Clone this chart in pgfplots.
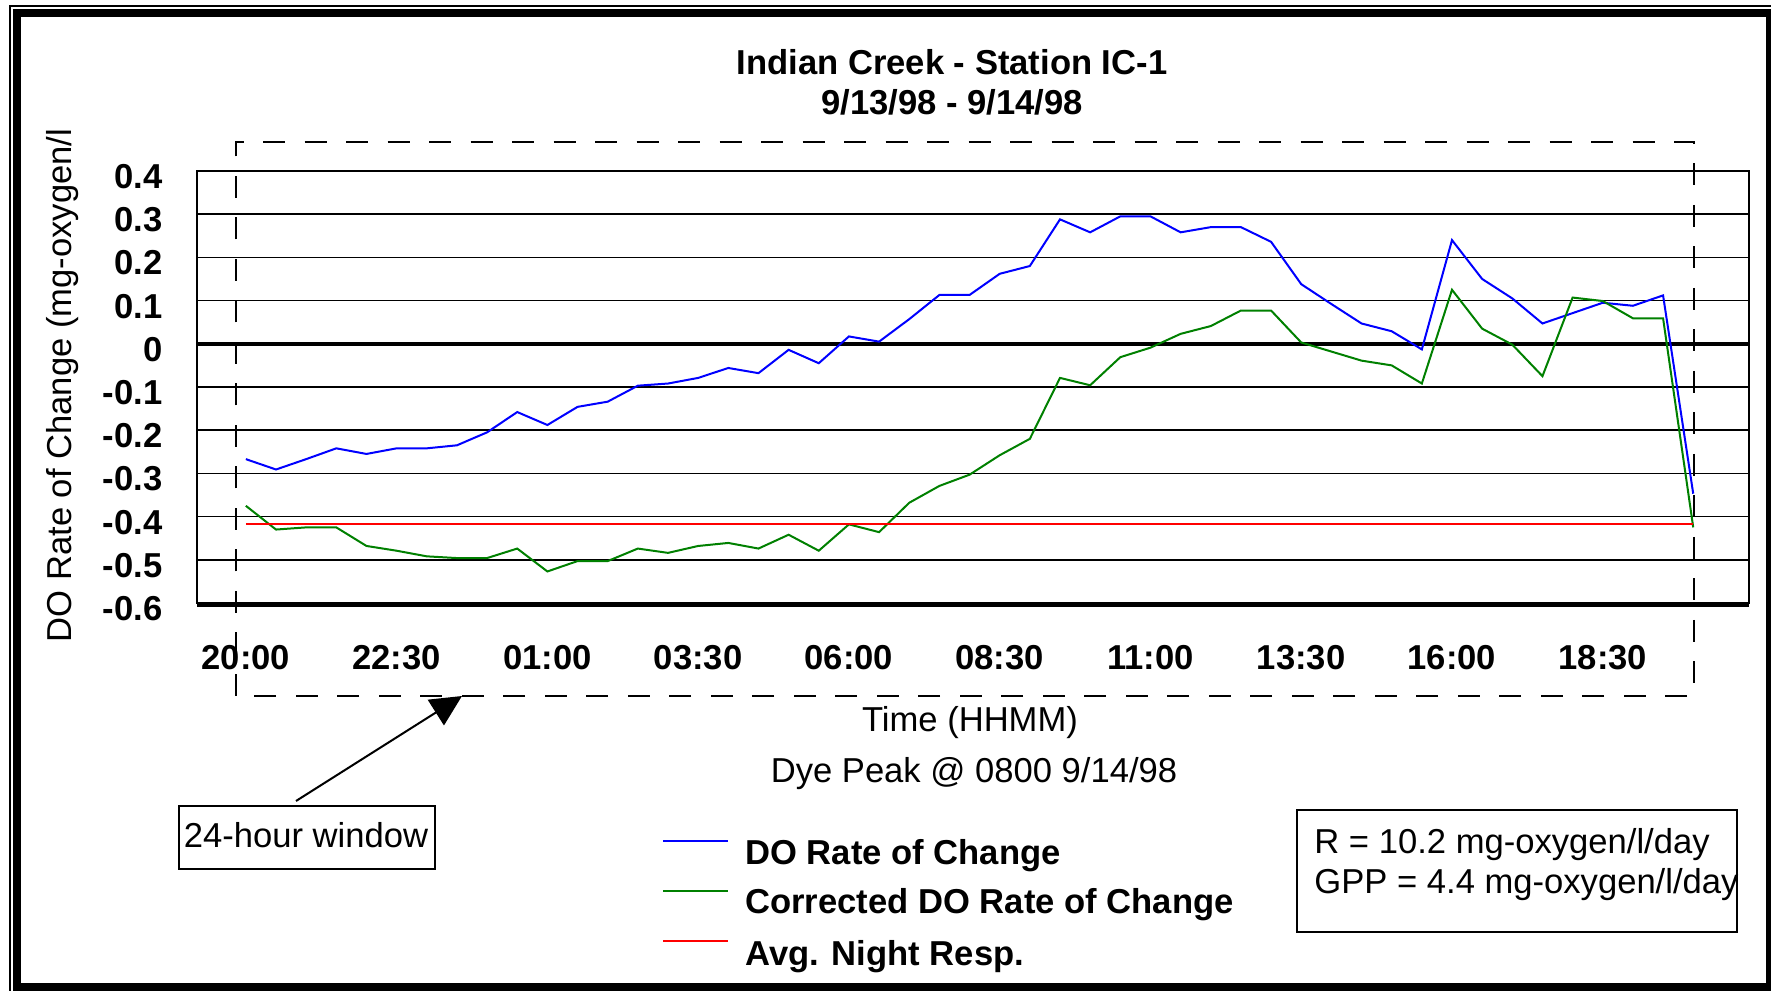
\documentclass[border=0pt]{standalone}
\usepackage{fontspec}
\setmainfont{Liberation Sans}
\usepackage{pgfplots}
\pgfplotsset{compat=1.18}
\usetikzlibrary{arrows.meta}
\definecolor{doblue}{RGB}{0,0,255}
\definecolor{dogreen}{RGB}{0,128,0}
\definecolor{dored}{RGB}{255,0,0}
\newcommand{\fs}{\fontsize{17.3}{20}\selectfont}

\begin{document}
\begin{tikzpicture}
\path[use as bounding box] (0,0) rectangle (885.5pt,495pt);
% page frame
\draw[line width=1pt] (5pt,-20pt) -- (5pt,492pt) -- (900pt,492pt);
\draw[line width=4pt] (8.25pt,1.5pt) rectangle (885pt,488.5pt);

\begin{axis}[
  at={(98.5pt,193.5pt)}, anchor=south west,
  scale only axis, width=776pt, height=216pt,
  xmin=-1.62, xmax=49.85, ymin=-0.6, ymax=0.4,
  clip=false,
  xtick={0,5,10,15,20,25,30,35,40,45},
  xticklabels={\textbf{20:00},\textbf{22:30},\textbf{01:00},\textbf{03:30},\textbf{06:00},\textbf{08:30},\textbf{11:00},\textbf{13:30},\textbf{16:00},\textbf{18:30}},
  ytick={-0.6,-0.5,-0.4,-0.3,-0.2,-0.1,0,0.1,0.2,0.3,0.4},
  yticklabels={\textbf{-0.6},\textbf{-0.5},\textbf{-0.4},\textbf{-0.3},\textbf{-0.2},\textbf{-0.1},\textbf{0},\textbf{0.1},\textbf{0.2},\textbf{0.3},\textbf{0.4}},
  major tick length=0pt,
  ymajorgrids, grid style={black, line width=0.85pt},
  axis line style={black, line width=1.3pt},
  tick label style={font=\bfseries\fs},
  xticklabel style={anchor=base, inner sep=0pt, yshift=-33.5pt},
  yticklabel style={anchor=base east, inner sep=0pt, xshift=-17pt, yshift=-8.75pt},
]
\draw[line width=2.2pt] (rel axis cs:0,0.6) -- (rel axis cs:1,0.6);
\draw[line width=2.4pt] ([yshift=-0.6pt]rel axis cs:0,0) -- ([yshift=-0.6pt]rel axis cs:1,0);

\addplot[doblue, line width=1pt] coordinates {
(0,-0.267) (1,-0.291) (2,-0.267) (3,-0.242) (4,-0.255) (5,-0.242) (6,-0.242) (7,-0.235)
(8,-0.205) (9,-0.158) (10,-0.188) (11,-0.146) (12,-0.134) (13,-0.097) (14,-0.092) (15,-0.079)
(16,-0.056) (17,-0.068) (18,-0.014) (19,-0.045) (20,0.017) (21,0.005) (22,0.057) (23,0.113)
(24,0.113) (25,0.162) (26,0.180) (27,0.288) (28,0.258) (29,0.295) (30,0.295) (31,0.258)
(32,0.270) (33,0.270) (34,0.236) (35,0.138) (36,0.092) (37,0.047) (38,0.029) (39,-0.013)
(40,0.240) (41,0.150) (42,0.105) (43,0.047) (44,0.071) (45,0.095) (46,0.088) (47,0.112)
(48,-0.347)};

\addplot[dogreen, line width=1pt] coordinates {
(0,-0.375) (1,-0.430) (2,-0.425) (3,-0.425) (4,-0.468) (5,-0.479) (6,-0.492) (7,-0.496)
(8,-0.496) (9,-0.474) (10,-0.527) (11,-0.503) (12,-0.503) (13,-0.474) (14,-0.484) (15,-0.468)
(16,-0.461) (17,-0.474) (18,-0.442) (19,-0.479) (20,-0.418) (21,-0.436) (22,-0.368) (23,-0.329)
(24,-0.303) (25,-0.258) (26,-0.220) (27,-0.079) (28,-0.096) (29,-0.031) (30,-0.009) (31,0.023)
(32,0.041) (33,0.077) (34,0.077) (35,0.003) (36,-0.018) (37,-0.039) (38,-0.050) (39,-0.092)
(40,0.125) (41,0.035) (42,-0.002) (43,-0.075) (44,0.107) (45,0.099) (46,0.059) (47,0.059)
(48,-0.425)};

\addplot[dored, line width=1pt] coordinates {(0,-0.418) (48,-0.418)};
\end{axis}

% title
\node[anchor=base, font=\bfseries\fs] at (476pt,457.75pt) {Indian Creek - Station IC-1};
\node[anchor=base, font=\bfseries\fs] at (476pt,437.5pt) {9/13/98 - 9/14/98};

% 24-hour window
\draw[line width=1pt, dash pattern=on 11pt off 9.75pt] (118pt,147pt) rectangle (847pt,424pt);

% axis titles
\node[rotate=90, anchor=base, font=\fs] at (35.5pt,302.25pt) {DO Rate of Change (mg-oxygen/l};
\node[anchor=base, font=\fs] at (485pt,129pt) {Time (HHMM)};
\node[anchor=base, font=\fs] at (487pt,103.5pt) {Dye Peak @ 0800 9/14/98};

% window callout
\draw[line width=1pt] (89.5pt,60.5pt) rectangle (217.5pt,92pt);
\node[anchor=base, font=\fs] at (153pt,71pt) {24-hour window};
\draw[line width=1pt, -{Triangle[length=15.5pt, width=15pt]}] (148pt,94.5pt) -- (231pt,147pt);

% legend
\draw[doblue, line width=1pt] (331.5pt,74.5pt) -- (364pt,74.5pt);
\node[anchor=base west, inner sep=0pt, font=\bfseries\fs] at (372.5pt,62.5pt) {DO Rate of Change};
\draw[dogreen, line width=1pt] (331.5pt,49.5pt) -- (364pt,49.5pt);
\node[anchor=base west, inner sep=0pt, font=\bfseries\fs] at (372.5pt,38pt) {Corrected DO Rate of Change};
\draw[dored, line width=1pt] (331.5pt,24.5pt) -- (364pt,24.5pt);
\node[anchor=base west, inner sep=0pt, font=\bfseries\fs] at (372.5pt,12.5pt) {Avg. Night Resp.};

% R / GPP box
\draw[line width=1pt] (648.5pt,29pt) rectangle (868.5pt,90pt);
\node[anchor=base west, inner sep=0pt, font=\fs] at (657pt,68pt) {R = 10.2 mg-oxygen/l/day};
\node[anchor=base west, inner sep=0pt, font=\fs] at (657pt,48pt) {GPP = 4.4 mg-oxygen/l/day};
\end{tikzpicture}
\end{document}
